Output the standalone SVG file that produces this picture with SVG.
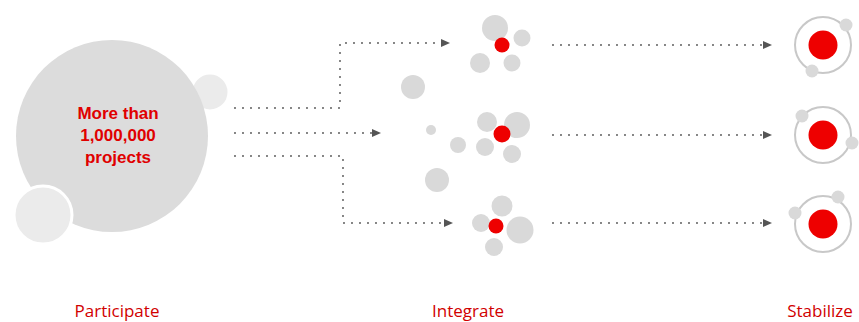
<svg xmlns="http://www.w3.org/2000/svg" width="859" height="322" viewBox="0 0 859 322">
<defs>
<style>
.g{fill:#d9d9d9}
.lg{fill:#ebebeb;stroke:#fff;stroke-width:3}
.r{fill:#ee0000}
.ring{fill:none;stroke:#c8c8c8;stroke-width:2}
.sat{fill:#d9d9d9}
.dot{fill:none;stroke:#5f5f5f;stroke-width:2;stroke-linecap:round;stroke-dasharray:0 8}
.lbl{font-family:"Open Sans","Liberation Sans",sans-serif;font-size:17px;fill:#d10000;text-anchor:middle}
.ttl{font-family:"Liberation Sans",Arial,sans-serif;font-size:17px;font-weight:bold;fill:#e00000;text-anchor:middle}
</style>
<marker id="ah" markerUnits="userSpaceOnUse" markerWidth="10" markerHeight="8" refX="0" refY="4" orient="auto">
<path d="M0,0 L9,4 L0,8 z" fill="#555"/>
</marker>
</defs>
<rect width="859" height="322" fill="#fff"/>

<g id="participate">
<circle cx="210" cy="92" r="19" class="lg"/>
<circle cx="112" cy="136" r="96" fill="#dcdcdc"/>
<circle cx="43" cy="215" r="29" class="lg"/>
<text class="ttl" x="118" y="119">More than</text>
<text class="ttl" x="118" y="141">1,000,000</text>
<text class="ttl" x="118" y="163">projects</text>
</g>

<g id="connectors">
<path class="dot" d="M235,108 H340 V43 H441" marker-end="url(#ah)"/>
<path class="dot" d="M235,133 H372" marker-end="url(#ah)"/>
<path class="dot" d="M235,156 H343 V223 H444" marker-end="url(#ah)"/>
<path class="dot" d="M553,45 H763" marker-end="url(#ah)"/>
<path class="dot" d="M553,135 H763" marker-end="url(#ah)"/>
<path class="dot" d="M553,223 H763" marker-end="url(#ah)"/>
</g>

<g id="scatter">
<circle class="g" cx="413" cy="87" r="12"/>
<circle class="g" cx="431" cy="130" r="5"/>
<circle class="g" cx="458" cy="145" r="8"/>
<circle class="g" cx="437" cy="180" r="12"/>
</g>

<g id="cluster1">
<circle class="g" cx="495" cy="28" r="13"/>
<circle class="g" cx="522" cy="38" r="8.5"/>
<circle class="g" cx="480" cy="63" r="10"/>
<circle class="g" cx="512" cy="63" r="8.5"/>
<circle class="r" cx="502" cy="45" r="7.5"/>
</g>

<g id="cluster2">
<circle class="g" cx="487" cy="122" r="10"/>
<circle class="g" cx="517" cy="125" r="13"/>
<circle class="g" cx="485" cy="147" r="9"/>
<circle class="g" cx="512" cy="154" r="9"/>
<circle class="r" cx="502" cy="134" r="8.5"/>
</g>

<g id="cluster3">
<circle class="g" cx="502" cy="206" r="10.5"/>
<circle class="g" cx="481" cy="223" r="9"/>
<circle class="g" cx="520" cy="230" r="13.5"/>
<circle class="g" cx="494" cy="247" r="9"/>
<circle class="r" cx="496" cy="226" r="7.5"/>
</g>

<g id="stable1">
<circle class="ring" cx="823" cy="45" r="28"/>
<circle class="r" cx="823" cy="45" r="14.5"/>
<circle class="sat" cx="846" cy="25" r="6.5"/>
<circle class="sat" cx="812" cy="71" r="6.5"/>
</g>
<g id="stable2">
<circle class="ring" cx="823" cy="135" r="28"/>
<circle class="r" cx="823" cy="135" r="14.5"/>
<circle class="sat" cx="802" cy="116" r="6.5"/>
<circle class="sat" cx="852" cy="143" r="6.5"/>
</g>
<g id="stable3">
<circle class="ring" cx="823" cy="224" r="28"/>
<circle class="r" cx="823" cy="224" r="14.5"/>
<circle class="sat" cx="838" cy="197" r="6.5"/>
<circle class="sat" cx="795" cy="213" r="6.5"/>
</g>

<g id="labels">
<text class="lbl" x="117" y="317">Participate</text>
<text class="lbl" x="468" y="317">Integrate</text>
<text class="lbl" x="820" y="317">Stabilize</text>
</g>
</svg>
